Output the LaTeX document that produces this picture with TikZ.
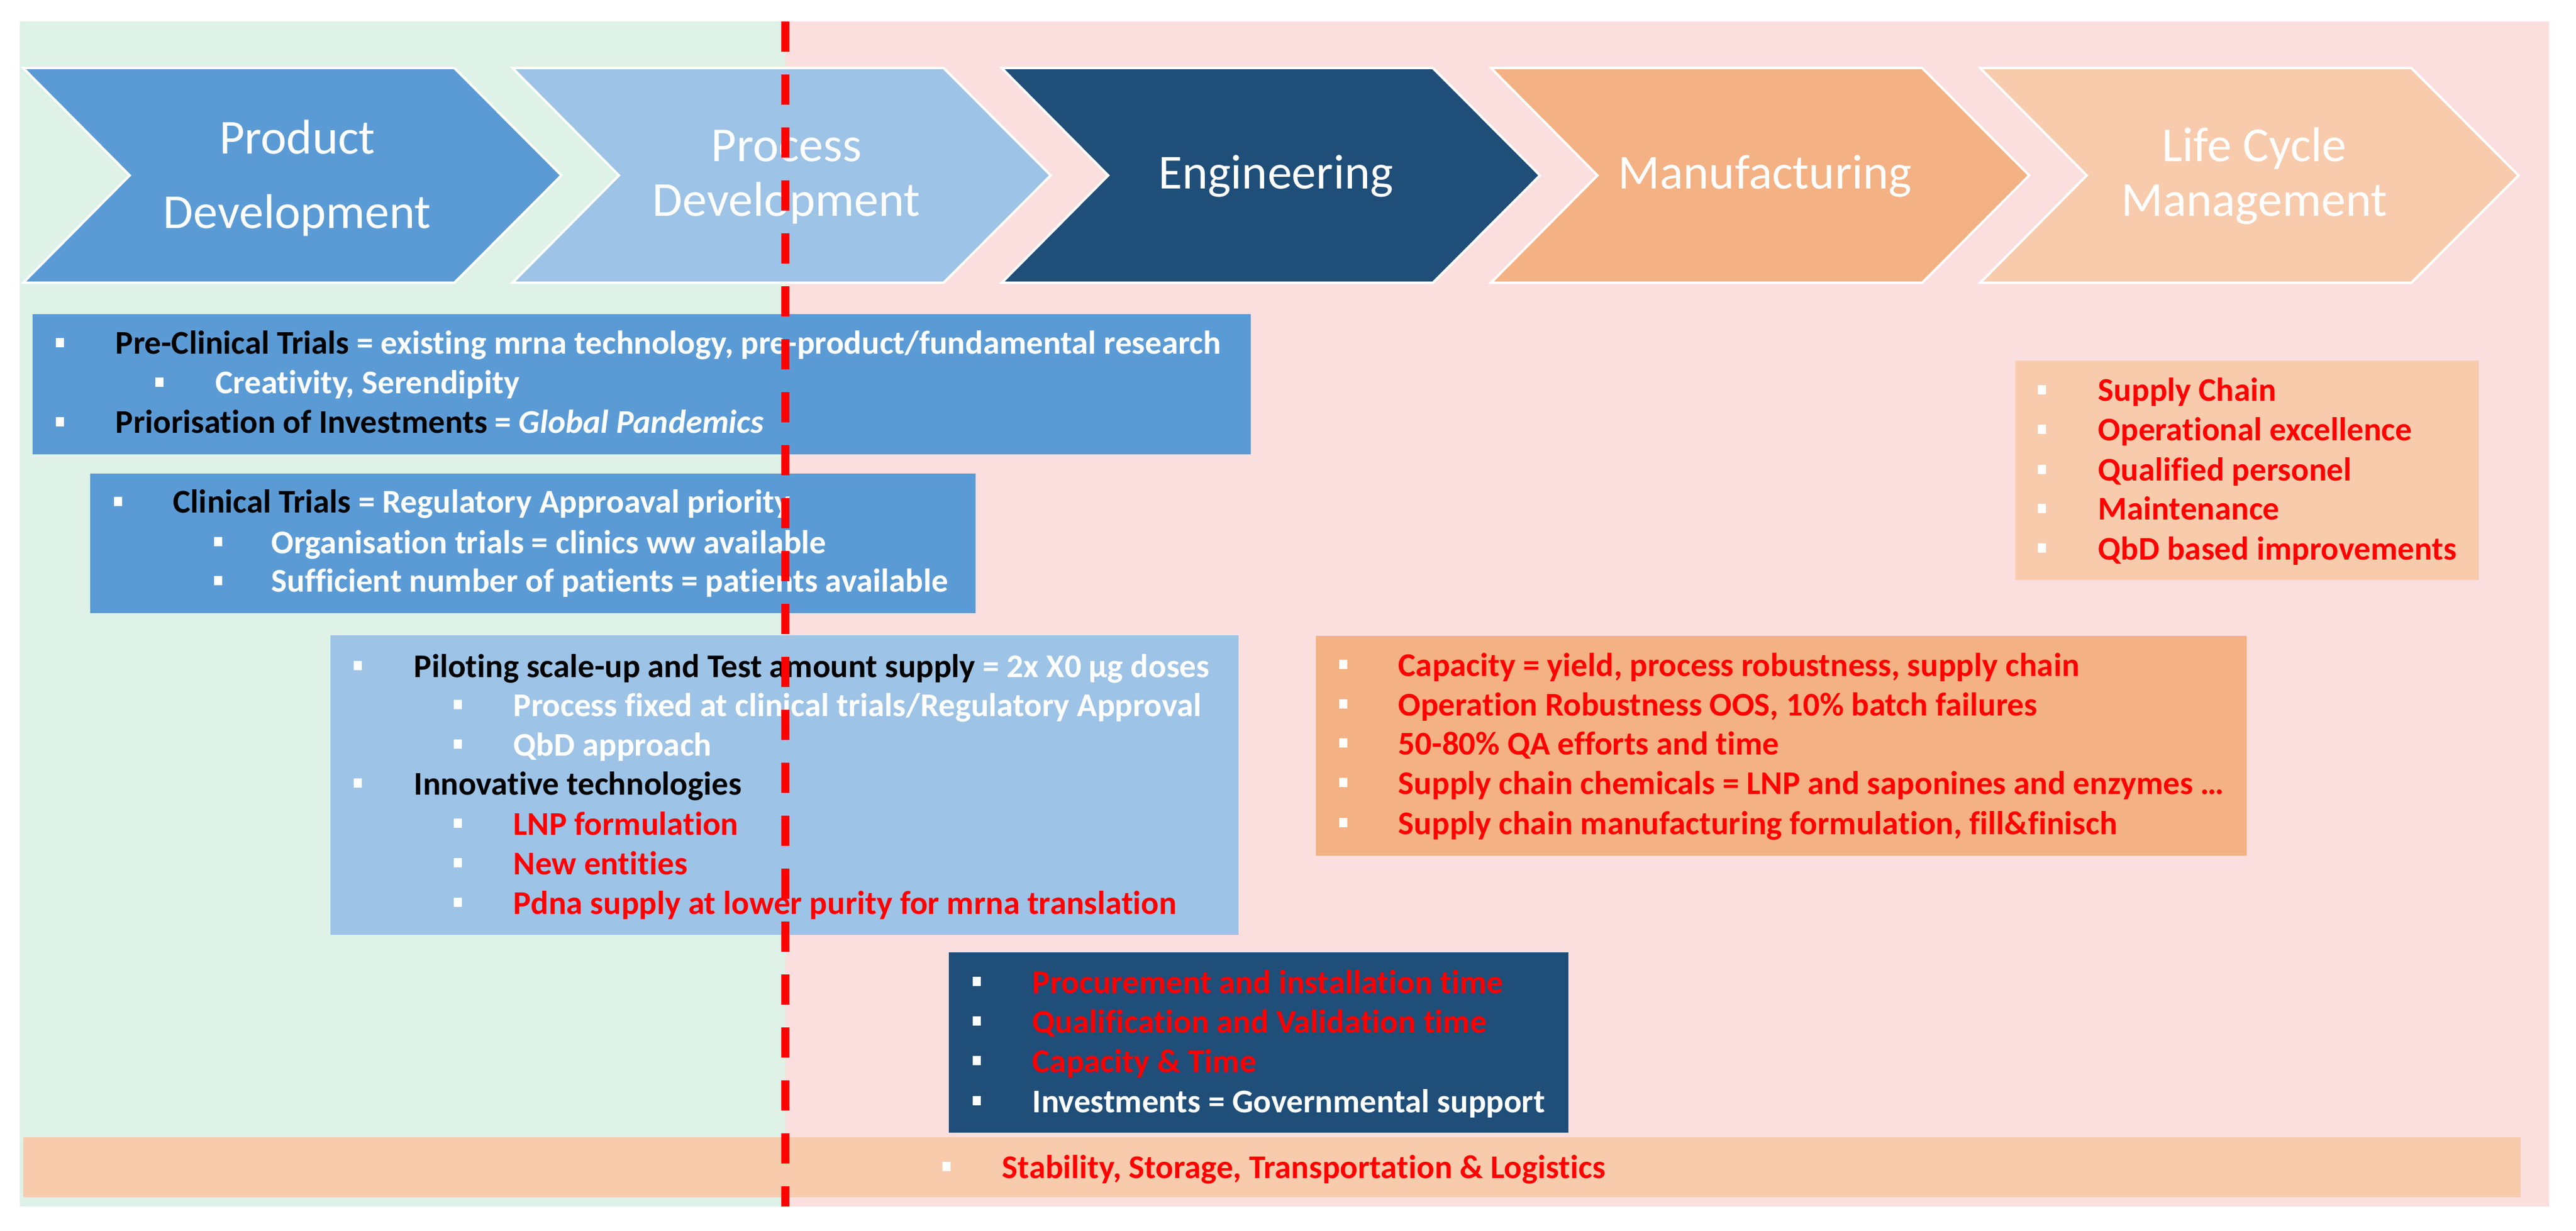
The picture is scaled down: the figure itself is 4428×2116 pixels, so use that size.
\documentclass[tikz,border=0pt]{standalone}
\usepackage{fontspec}
\setmainfont{Carlito}[Ligatures=NoCommon]
\definecolor{prodblue}{HTML}{5B9BD5}
\definecolor{procblue}{HTML}{9DC3E6}
\definecolor{engblue}{HTML}{1F4E79}
\definecolor{manuorange}{HTML}{F4B183}
\definecolor{lcmpeach}{HTML}{F8CBAD}
\definecolor{bggreen}{RGB}{222,242,231}
\definecolor{bgpink}{RGB}{251,223,223}
\definecolor{alertred}{HTML}{FF0000}

\begin{document}
\begin{tikzpicture}[x=0.25pt,y=0.25pt,yscale=-1,xscale=1,
  chev/.style={draw=white, line width=1pt},
  phase/.style={text=white, inner sep=0pt, anchor=base, font=\fontsize{21}{24}\selectfont},
  itm/.style={anchor=base west, inner sep=0pt, text=white, font=\fontsize{14.25}{16}\selectfont\bfseries},
  bul/.style={fill=white}]
\useasboundingbox (0,0) rectangle (4428,2116);

%Background areas
\fill [bggreen] (34,37) rectangle (1350,2074);
\fill [bgpink] (1350,37) rectangle (4382,2074);

%Chevrons
\draw [chev, fill=prodblue] (40,117) -- (781,117) -- (965,301.5) -- (781,486) -- (40,486) -- (223,301.5) -- cycle;
\draw [chev, fill=procblue] (881,117) -- (1622,117) -- (1806,301.5) -- (1622,486) -- (881,486) -- (1064,301.5) -- cycle;
\draw [chev, fill=engblue] (1722,117) -- (2463,117) -- (2647,301.5) -- (2463,486) -- (1722,486) -- (1905,301.5) -- cycle;
\draw [chev, fill=manuorange] (2563,117) -- (3304,117) -- (3488,301.5) -- (3304,486) -- (2563,486) -- (2746,301.5) -- cycle;
\draw [chev, fill=lcmpeach] (3404,117) -- (4145,117) -- (4329,301.5) -- (4145,486) -- (3404,486) -- (3587,301.5) -- cycle;

% Text Node
\draw (511,265) node [phase] (prod1) {Product};
\draw (511,393) node [phase] (prod2) {Development};
\draw (1352,278) node [phase] (proc1) {Process};
\draw (1352,372) node [phase] (proc2) {Development};
\draw (2193,325) node [phase] (eng) {Engineering};
\draw (3034,325) node [phase] (manu) {Manufacturing};
\draw (3875,278) node [phase] (lcm1) {Life Cycle};
\draw (3875,372) node [phase] (lcm2) {Management};

%Pre-clinical box
\fill [prodblue] (56,540) rectangle (2150,781);
\fill [bul] (96,581) rectangle (110,597);
\draw (198,609) node [itm] (pre1) {\textcolor{black}{Pre-Clinical Trials} = existing mrna technology, pre-product/fundamental research};
\fill [bul] (267,649) rectangle (281,665);
\draw (370,677) node [itm] (pre2) {Creativity, Serendipity};
\fill [bul] (96,717) rectangle (110,733);
\draw (198,745) node [itm] (pre3) {\textcolor{black}{Priorisation of Investments} = \textit{Global Pandemics}};

%Clinical box
\fill [prodblue] (155,814) rectangle (1677,1054);
\fill [bul] (196,854) rectangle (210,870);
\draw (297,882) node [itm] (clin1) {\textcolor{black}{Clinical Trials} = Regulatory Approaval priority};
\fill [bul] (368,923) rectangle (382,939);
\draw (466,951) node [itm] (clin2) {Organisation trials = clinics ww available};
\fill [bul] (368,990) rectangle (382,1006);
\draw (466,1018) node [itm] (clin3) {Sufficient number of patients = patients available};

%Piloting box
\fill [procblue] (568,1092) rectangle (2129,1607);
\fill [bul] (608,1136) rectangle (622,1152);
\draw (711,1164) node [itm] (pil1) {\textcolor{black}{Piloting scale-up and Test amount supply} = 2x X0 µg doses};
\fill [bul] (780,1203) rectangle (794,1219);
\draw (882,1231) node [itm] (pil2) {Process fixed at clinical trials/Regulatory Approval};
\fill [bul] (780,1271) rectangle (794,1287);
\draw (882,1299) node [itm] (pil3) {QbD approach};
\fill [bul] (608,1338) rectangle (622,1354);
\draw (711,1366) node [itm, text=black] (pil4) {Innovative technologies};
\fill [bul] (780,1407) rectangle (794,1423);
\draw (882,1435) node [itm, text=alertred] (pil5) {LNP formulation};
\fill [bul] (780,1475) rectangle (794,1491);
\draw (882,1503) node [itm, text=alertred] (pil6) {New entities};
\fill [bul] (780,1543) rectangle (794,1559);
\draw (882,1571) node [itm, text=alertred] (pil7) {Pdna supply at lower purity for mrna translation};

%Manufacturing box
\fill [manuorange] (2262,1093) rectangle (3862,1471);
\fill [bul] (2302,1134) rectangle (2316,1150);
\draw (2403,1162) node [itm, text=alertred] (man1) {Capacity = yield, process robustness, supply chain};
\fill [bul] (2302,1202) rectangle (2316,1218);
\draw (2403,1230) node [itm, text=alertred] (man2) {Operation Robustness OOS, 10\% batch failures};
\fill [bul] (2302,1269) rectangle (2316,1285);
\draw (2403,1297) node [itm, text=alertred] (man3) {50-80\% QA efforts and time};
\fill [bul] (2302,1337) rectangle (2316,1353);
\draw (2403,1365) node [itm, text=alertred] (man4) {Supply chain chemicals = LNP and saponines and enzymes …};
\fill [bul] (2302,1406) rectangle (2316,1422);
\draw (2403,1434) node [itm, text=alertred] (man5) {Supply chain manufacturing formulation, fill\&finisch};

%Life cycle box
\fill [lcmpeach] (3464,620) rectangle (4261,997);
\fill [bul] (3503,662) rectangle (3517,678);
\draw (3606,690) node [itm, text=alertred] (lc1) {Supply Chain};
\fill [bul] (3503,730) rectangle (3517,746);
\draw (3606,758) node [itm, text=alertred] (lc2) {Operational excellence};
\fill [bul] (3503,799) rectangle (3517,815);
\draw (3606,827) node [itm, text=alertred] (lc3) {Qualified personel};
\fill [bul] (3503,866) rectangle (3517,882);
\draw (3606,894) node [itm, text=alertred] (lc4) {Maintenance};
\fill [bul] (3503,934) rectangle (3517,950);
\draw (3606,962) node [itm, text=alertred] (lc5) {QbD based improvements};

%Engineering box
\fill [engblue] (1631,1637) rectangle (2696,1947);
\fill [bul] (1672,1679) rectangle (1686,1695);
\draw (1774,1707) node [itm, text=alertred] (en1) {Procurement and installation time};
\fill [bul] (1672,1747) rectangle (1686,1763);
\draw (1774,1775) node [itm, text=alertred] (en2) {Qualification and Validation time};
\fill [bul] (1672,1815) rectangle (1686,1831);
\draw (1774,1843) node [itm, text=alertred] (en3) {Capacity \& Time};
\fill [bul] (1672,1884) rectangle (1686,1900);
\draw (1774,1912) node [itm] (en4) {Investments = Governmental support};

%Logistics bar
\fill [lcmpeach] (40,1955) rectangle (4333,2058);
\fill [bul] (1620,1997) rectangle (1634,2013);
\draw (1722,2025) node [itm, text=alertred] (logi) {Stability, Storage, Transportation \& Logistics};

%Dashed split line
\coordinate (splittop) at (1350,37);
\coordinate (splitbot) at (1350,2074);
\draw [alertred, line width=3.5pt, dash pattern=on 13pt off 9.75pt] (splittop) -- (splitbot);
\end{tikzpicture}
\end{document}
